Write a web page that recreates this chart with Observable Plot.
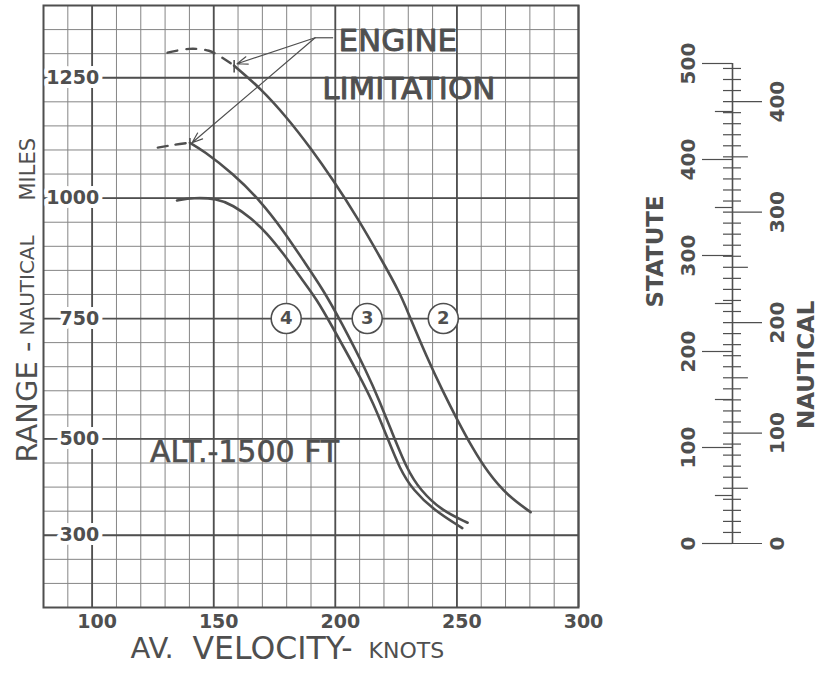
<!DOCTYPE html>
<html><head><meta charset="utf-8">
<script src="https://cdn.jsdelivr.net/npm/d3@7"></script>
<script src="https://cdn.jsdelivr.net/npm/@observablehq/plot@0.6"></script>
<style>
body{margin:0;background:#fff;}
#wrap{display:flex;width:834px;height:675px;background:#fff;}
svg{font-family:"DejaVu Sans",sans-serif;}
</style></head><body><div id="wrap"></div>
<script>
const INK = "#4f4f4f";
const GRID = "#858585";
const NM = 1.15078; // statute miles per nautical mile

// ---- data (velocity knots, range nautical miles) ----
const curve2Limit = [[131,1302],[140,1310],[148,1306],[154,1290],[158.4,1275]];
const curve2 = [[158.4,1275],[169.1,1229],[180.2,1167],[189.7,1105],[199.2,1037],[209,960],[218.5,877],[226.7,802],[230,761],[237.8,668],[244,601],[250.2,539],[256.4,481],[262.6,431],[270.8,382],[280.3,348]];
const curve3Limit = [[127,1105],[134,1111],[140.2,1115]];
const curve3 = [[140.2,1115],[145.6,1099],[158,1051],[169.1,995],[178.6,933],[186.8,871],[195.1,809],[202.1,746],[213.2,637],[218.5,574],[222.6,523],[229.6,435],[235,394],[243.2,353],[254.4,326]];
const curve4 = [[134.9,995],[141.5,1001],[151.4,999],[158,985],[165,960],[172,927],[178.6,885],[185.6,836],[192.6,788],[198,740],[210.3,628],[215.6,574],[220.5,514],[226.7,435],[232,394],[240.3,353],[252.2,315]];

const curveIds = ["4","3","2"];
const curveIdX = [179.8, 213.1, 244.4];
const curveIdY = 750;

const limitTicks = [{v:158.4, r1:1286, r2:1260},{v:140.2, r1:1124, r2:1099}];
const leaderStart = {v:191.7, r:1333};
const leaderEnd = {v:199.1, r:1333};
const leaderTips = [{v:159.6, r:1279},{v:141.1, r:1115}];

const xLabels = [100,150,200,250,300];
const yLabels = [1250,1000,750,500,300];
const xMinor = d3.range(80, 301, 10);
const yMinor = d3.range(150, 1401, 50);
const xMajor = [100,150,200,250,300];
const yMajor = [300,500,750,1000,1250];

const statuteLabels = [0,100,200,300,400,500];
const nauticalLabels = [0,100,200,300,400];
const statuteTicks = d3.range(0, 501, 50);
const nauticalTicks = d3.range(0, 431, 10);

const pts = a => a.map(([v, r]) => ({v, r}));
const txt = {fill: INK, fontFamily: "DejaVu Sans"};
const crv = {x: "v", y: "r", curve: "basis", stroke: INK};

const main = Plot.plot({
  width: 620, height: 675,
  marginLeft: 43, marginRight: 42, marginTop: 5, marginBottom: 68,
  x: {domain: [80, 300], axis: null},
  y: {domain: [150, 1400], axis: null},
  style: {background: "white", color: INK, fontFamily: "DejaVu Sans"},
  marks: [
    Plot.ruleX(xMinor, {stroke: GRID, strokeWidth: 1}),
    Plot.ruleY(yMinor, {stroke: GRID, strokeWidth: 1}),
    Plot.ruleX(xMajor, {stroke: INK, strokeWidth: 1.8}),
    Plot.ruleY(yMajor, {stroke: INK, strokeWidth: 1.8}),
    Plot.frame({stroke: INK, strokeWidth: 2}),
    Plot.text(yLabels, {x: 100, y: d => d, text: d => String(d), textAnchor: "end", dx: 7,
      fontSize: 19, fontWeight: "bold", stroke: "white", strokeWidth: 8, paintOrder: "stroke", ...txt}),
    Plot.text(xLabels, {x: d => d, frameAnchor: "bottom", lineAnchor: "middle", dy: 14, dx: 5, text: d => String(d),
      fontSize: 19, fontWeight: "bold", ...txt}),
    // curves
    Plot.line(pts(curve2Limit), {...crv, curve: "catmull-rom", strokeWidth: 2.4, strokeDasharray: "10,9"}),
    Plot.line(pts(curve3Limit), {...crv, curve: "catmull-rom", strokeWidth: 2.4, strokeDasharray: "10,8"}),
    Plot.line(pts(curve2), {...crv, strokeWidth: 2.6}),
    Plot.line(pts(curve3), {...crv, strokeWidth: 2.6}),
    Plot.line(pts(curve4), {...crv, strokeWidth: 2.6}),
    Plot.ruleX(limitTicks, {x: "v", y1: "r1", y2: "r2", stroke: INK, strokeWidth: 1.6}),
    // engine limitation leaders
    Plot.link([0], {x1: leaderStart.v, y1: leaderStart.r, x2: leaderEnd.v, y2: leaderEnd.r, stroke: INK, strokeWidth: 1.2}),
    Plot.arrow(leaderTips, {x1: leaderStart.v, y1: leaderStart.r, x2: "v", y2: "r", stroke: INK, strokeWidth: 1.2, headLength: 14, headAngle: 40}),
    Plot.text(["ENGINE"], {x: 201.3, y: 1327, text: d => d, textAnchor: "start", fontSize: 31, stroke: INK, strokeWidth: 0.9, ...txt}),
    Plot.text(["LIMITATION"], {x: 194.6, y: 1227, text: d => d, textAnchor: "start", fontSize: 31, stroke: INK, strokeWidth: 0.9, ...txt}),
    Plot.text(["ALT.-1500 FT"], {x: 123.8, y: 473, text: d => d, textAnchor: "start", fontSize: 30, stroke: INK, strokeWidth: 0.6, ...txt}),
    // curve ids
    Plot.dot(curveIds, {x: (d, i) => curveIdX[i], y: curveIdY, r: 15, fill: "white", stroke: INK, strokeWidth: 1.6}),
    Plot.text(curveIds, {x: (d, i) => curveIdX[i], y: curveIdY, text: d => d, fontSize: 18, fontWeight: "bold", ...txt}),
    // axis titles
    Plot.text(["AV."], {frameAnchor: "bottom-left", lineAnchor: "middle", dx: 87, dy: 41.5, text: d => d, textAnchor: "start", fontSize: 29, ...txt}),
    Plot.text(["VELOCITY-"], {frameAnchor: "bottom-left", lineAnchor: "middle", dx: 149, dy: 41.5, text: d => d, textAnchor: "start", fontSize: 31.5, ...txt}),
    Plot.text(["KNOTS"], {frameAnchor: "bottom-left", lineAnchor: "middle", dx: 325, dy: 43.5, text: d => d, textAnchor: "start", fontSize: 22, ...txt}),
    Plot.text(["RANGE -"], {frameAnchor: "left", lineAnchor: "middle", dx: -16, dy: 156, rotate: -90, text: d => d, textAnchor: "start", fontSize: 29, ...txt}),
    Plot.text(["NAUTICAL"], {frameAnchor: "left", lineAnchor: "middle", dx: -15.5, dy: 29, rotate: -90, text: d => d, textAnchor: "start", fontSize: 20, ...txt}),
    Plot.text(["MILES"], {frameAnchor: "left", lineAnchor: "middle", dx: -15.5, dy: -106, rotate: -90, text: d => d, textAnchor: "start", fontSize: 21, ...txt})
  ]
});

const statMajor = statuteTicks.filter(d => d % 100 === 0);
const statMid = statuteTicks.filter(d => d % 100 !== 0);
const nautMajor = nauticalTicks.filter(d => d % 100 === 0);
const nautMid = nauticalTicks.filter(d => d % 50 === 0 && d % 100 !== 0);
const nautMinor = nauticalTicks.filter(d => d % 50 !== 0);
const tk = {stroke: INK, strokeWidth: 1.2};

const scale = Plot.plot({
  width: 214, height: 675,
  marginLeft: 82, marginRight: 72, marginTop: 0, marginBottom: 0,
  x: {domain: [-1, 1], axis: null},
  y: {domain: [0, 500], range: [543, 63], axis: null},
  style: {background: "white", color: INK, fontFamily: "DejaVu Sans"},
  marks: [
    Plot.ruleX([0], {y1: 0, y2: 500, stroke: INK, strokeWidth: 1.6}),
    Plot.ruleY(nautMinor, {y: d => d * NM, x1: -0.3, x2: 0.3, ...tk}),
    Plot.ruleY(nautMid, {y: d => d * NM, x1: -0.3, x2: 0.53, ...tk}),
    Plot.ruleY(nautMajor, {y: d => d * NM, x1: -0.3, x2: 1, ...tk}),
    Plot.ruleY(statMid, {y: d => d, x1: -0.57, x2: 0, ...tk}),
    Plot.ruleY(statMajor, {y: d => d, x1: -1, x2: 0, ...tk}),
    Plot.text(statuteLabels, {x: -1, y: d => d, text: d => String(d), rotate: -90, dx: -14, fontSize: 20, fontWeight: "bold", ...txt}),
    Plot.text(nauticalLabels, {x: 1, y: d => d * NM, text: d => String(d), rotate: -90, dx: 15, fontSize: 20, fontWeight: "bold", ...txt}),
    Plot.text(["STATUTE"], {frameAnchor: "left", lineAnchor: "middle", dx: -47, dy: -30.5, rotate: -90, text: d => d, fontSize: 23, fontWeight: "bold", ...txt}),
    Plot.text(["NAUTICAL"], {frameAnchor: "right", lineAnchor: "middle", dx: 44, dy: -37.5, rotate: -90, text: d => d, fontSize: 23, fontWeight: "bold", ...txt})
  ]
});

document.getElementById("wrap").append(main, scale);
</script></body></html>
